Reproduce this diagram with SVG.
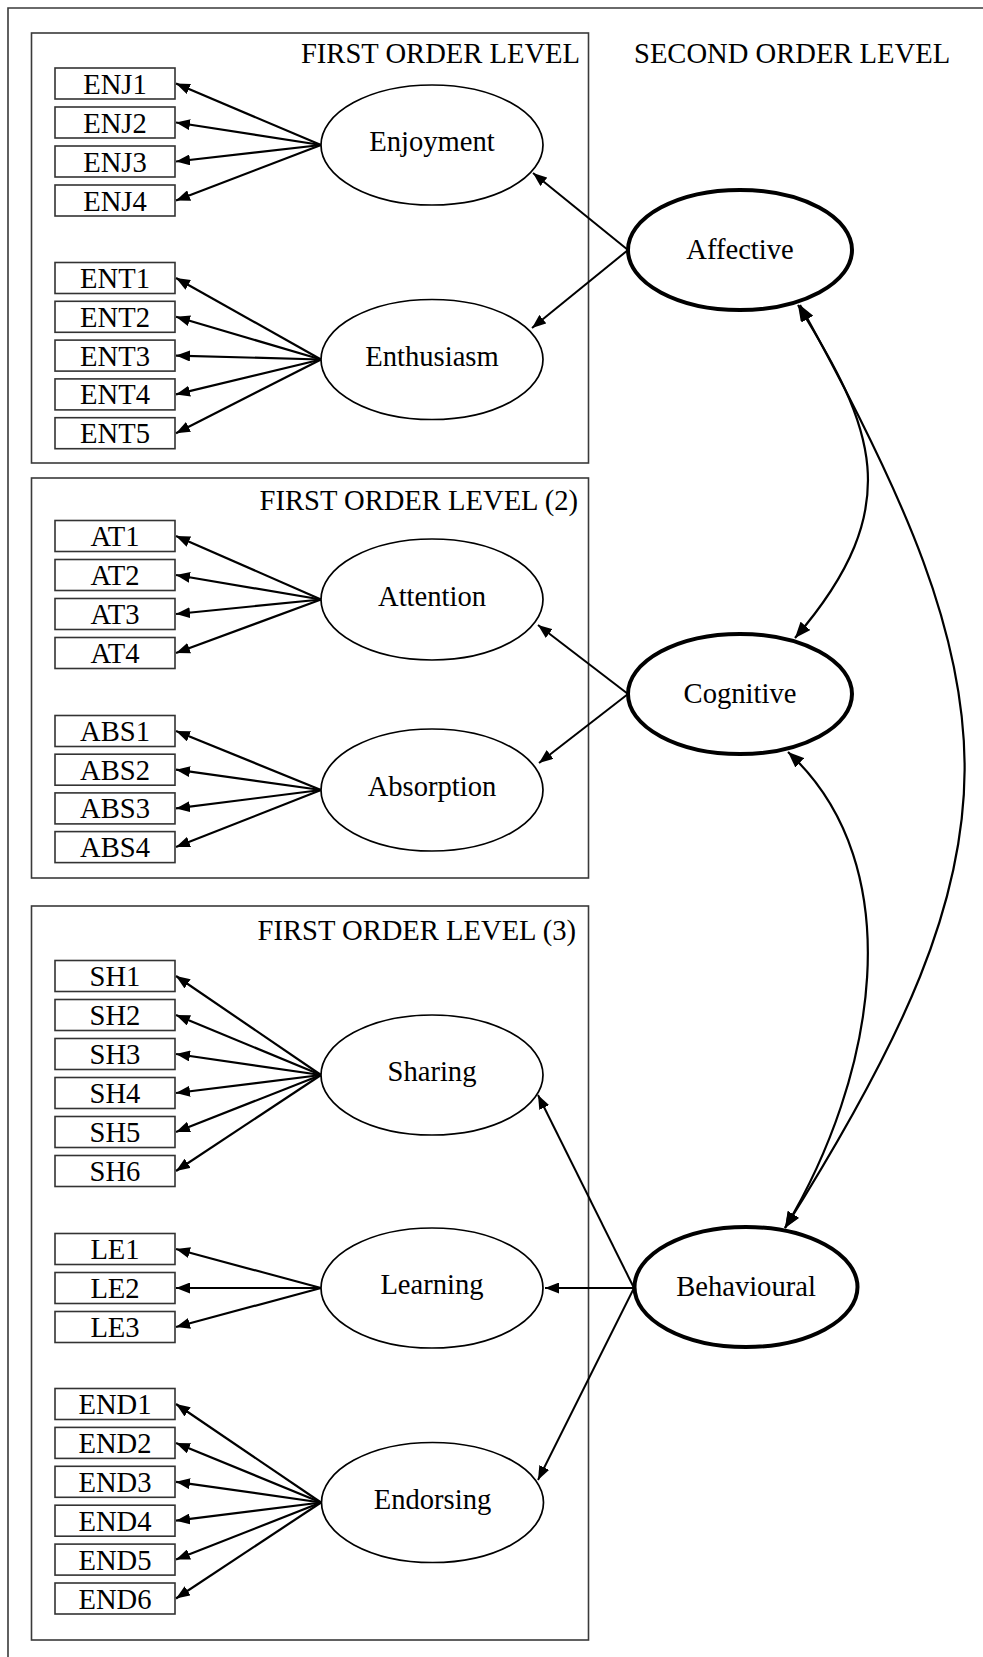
<svg xmlns="http://www.w3.org/2000/svg" width="983" height="1657" viewBox="0 0 983 1657">
  <style>
    text { font-family: "Liberation Serif", "Times New Roman", serif; font-size: 28.6px; fill: #000; }
    .mid { text-anchor: middle; }
    .end { text-anchor: end; }
    .frame { fill: none; stroke: #3a3a3a; stroke-width: 1.6; }
    .ind rect { fill: #fff; stroke: #333; stroke-width: 1.6; }
    .lat1 { fill: #fff; stroke: #000; stroke-width: 1.7; }
    .lat2 { fill: #fff; stroke: #000; stroke-width: 4; }
    .load { fill: none; stroke: #000; stroke-width: 2.2; marker-end: url(#ah); }
    .path2 { fill: none; stroke: #000; stroke-width: 2; marker-end: url(#ah); }
    .cov { fill: none; stroke: #000; stroke-width: 2.2; marker-start: url(#ah2); marker-end: url(#ah2); }
  </style>
  <defs>
    <marker id="ah" markerUnits="userSpaceOnUse" markerWidth="15" markerHeight="11" refX="14" refY="5.5" orient="auto">
      <path d="M0,0 L14,5.5 L0,11 z" fill="#000"/>
    </marker>
    <marker id="ah2" markerUnits="userSpaceOnUse" markerWidth="17" markerHeight="13" refX="16" refY="6.5" orient="auto-start-reverse">
      <path d="M0,0 L16,6.5 L0,13 z" fill="#000"/>
    </marker>
  </defs>

  <rect width="983" height="1657" fill="#fff"/>
  <!-- outer border (top and left edges) -->
  <path d="M8,1657 V8 H983" class="frame"/>

  <!-- first order group frames -->
  <g id="group-first-order-1">
    <rect x="31.5" y="33" width="557" height="430" class="frame"/>
    <text x="580" y="63" class="end">FIRST ORDER LEVEL</text>
  </g>
  <g id="group-first-order-2">
    <rect x="31.5" y="478" width="557" height="400" class="frame"/>
    <text x="578" y="510" class="end">FIRST ORDER LEVEL (2)</text>
  </g>
  <g id="group-first-order-3">
    <rect x="31.5" y="906" width="557" height="734" class="frame"/>
    <text x="576" y="940" class="end">FIRST ORDER LEVEL (3)</text>
  </g>
  <text x="634" y="63">SECOND ORDER LEVEL</text>

  <!-- connectors -->
  <g id="connectors">
    <!-- Enjoyment loadings -->
    <path class="load" d="M321,145 L176,83.5"/>
    <path class="load" d="M321,145 L176,122.5"/>
    <path class="load" d="M321,145 L176,161.5"/>
    <path class="load" d="M321,145 L176,200.5"/>
    <!-- Enthusiasm loadings -->
    <path class="load" d="M321,359.5 L176,278"/>
    <path class="load" d="M321,359.5 L176,316.8"/>
    <path class="load" d="M321,359.5 L176,355.6"/>
    <path class="load" d="M321,359.5 L176,394.4"/>
    <path class="load" d="M321,359.5 L176,433.2"/>
    <!-- Attention loadings -->
    <path class="load" d="M321,599.5 L176,536"/>
    <path class="load" d="M321,599.5 L176,575"/>
    <path class="load" d="M321,599.5 L176,614"/>
    <path class="load" d="M321,599.5 L176,653"/>
    <!-- Absorption loadings -->
    <path class="load" d="M321,790 L176,731"/>
    <path class="load" d="M321,790 L176,769.7"/>
    <path class="load" d="M321,790 L176,808.4"/>
    <path class="load" d="M321,790 L176,847.1"/>
    <!-- Sharing loadings -->
    <path class="load" d="M321,1075 L176,976"/>
    <path class="load" d="M321,1075 L176,1015"/>
    <path class="load" d="M321,1075 L176,1054"/>
    <path class="load" d="M321,1075 L176,1093"/>
    <path class="load" d="M321,1075 L176,1132"/>
    <path class="load" d="M321,1075 L176,1171"/>
    <!-- Learning loadings -->
    <path class="load" d="M321,1288 L176,1249"/>
    <path class="load" d="M321,1288 L176,1288"/>
    <path class="load" d="M321,1288 L176,1327"/>
    <!-- Endorsing loadings -->
    <path class="load" d="M321,1502.5 L176,1404"/>
    <path class="load" d="M321,1502.5 L176,1442.9"/>
    <path class="load" d="M321,1502.5 L176,1481.8"/>
    <path class="load" d="M321,1502.5 L176,1520.7"/>
    <path class="load" d="M321,1502.5 L176,1559.6"/>
    <path class="load" d="M321,1502.5 L176,1598.5"/>

    <!-- second order paths -->
    <path class="path2" d="M628,250 L533,173"/>
    <path class="path2" d="M628,250 L532,328"/>
    <path class="path2" d="M628,694 L538,625"/>
    <path class="path2" d="M628,694 L539,763"/>
    <path class="path2" d="M634,1288 L538,1095"/>
    <path class="path2" d="M634,1288 L545,1288"/>
    <path class="path2" d="M634,1288 L538,1480"/>

    <!-- covariances between second order factors -->
    <path class="cov" d="M798,305 C872,425 910,505 795,638"/>
    <path class="cov" d="M788,752 C913,867 875,1078 785,1228"/>
    <path class="cov" d="M800,305 C1017,699 1027,843 785,1228"/>
  </g>

  <!-- first order factors -->
  <g id="enjoyment">
    <ellipse class="lat1" cx="432" cy="145" rx="111" ry="60"/>
    <text x="432" y="151" class="mid">Enjoyment</text>
  </g>
  <g id="enthusiasm">
    <ellipse class="lat1" cx="432" cy="359.5" rx="111" ry="60"/>
    <text x="432" y="365.5" class="mid">Enthusiasm</text>
  </g>
  <g id="attention">
    <ellipse class="lat1" cx="432" cy="599.5" rx="111" ry="60.5"/>
    <text x="432" y="605.5" class="mid">Attention</text>
  </g>
  <g id="absorption">
    <ellipse class="lat1" cx="432" cy="790" rx="111" ry="61"/>
    <text x="432" y="796" class="mid">Absorption</text>
  </g>
  <g id="sharing">
    <ellipse class="lat1" cx="432" cy="1075" rx="111" ry="60"/>
    <text x="432" y="1081" class="mid">Sharing</text>
  </g>
  <g id="learning">
    <ellipse class="lat1" cx="432" cy="1288" rx="111" ry="60"/>
    <text x="432" y="1294" class="mid">Learning</text>
  </g>
  <g id="endorsing">
    <ellipse class="lat1" cx="432.5" cy="1502.5" rx="111" ry="60"/>
    <text x="432.5" y="1508.5" class="mid">Endorsing</text>
  </g>

  <!-- observed indicators -->
  <g id="indicators" class="ind">
    <g id="ENJ1"><rect x="55" y="68" width="120" height="31"/><text x="115" y="93.5" class="mid">ENJ1</text></g>
    <g id="ENJ2"><rect x="55" y="107" width="120" height="31"/><text x="115" y="132.5" class="mid">ENJ2</text></g>
    <g id="ENJ3"><rect x="55" y="146" width="120" height="31"/><text x="115" y="171.5" class="mid">ENJ3</text></g>
    <g id="ENJ4"><rect x="55" y="185" width="120" height="31"/><text x="115" y="210.5" class="mid">ENJ4</text></g>

    <g id="ENT1"><rect x="55" y="262.5" width="120" height="31"/><text x="115" y="288" class="mid">ENT1</text></g>
    <g id="ENT2"><rect x="55" y="301.3" width="120" height="31"/><text x="115" y="326.8" class="mid">ENT2</text></g>
    <g id="ENT3"><rect x="55" y="340.1" width="120" height="31"/><text x="115" y="365.6" class="mid">ENT3</text></g>
    <g id="ENT4"><rect x="55" y="378.9" width="120" height="31"/><text x="115" y="404.4" class="mid">ENT4</text></g>
    <g id="ENT5"><rect x="55" y="417.7" width="120" height="31"/><text x="115" y="443.2" class="mid">ENT5</text></g>

    <g id="AT1"><rect x="55" y="520.5" width="120" height="31"/><text x="115" y="546" class="mid">AT1</text></g>
    <g id="AT2"><rect x="55" y="559.5" width="120" height="31"/><text x="115" y="585" class="mid">AT2</text></g>
    <g id="AT3"><rect x="55" y="598.5" width="120" height="31"/><text x="115" y="624" class="mid">AT3</text></g>
    <g id="AT4"><rect x="55" y="637.5" width="120" height="31"/><text x="115" y="663" class="mid">AT4</text></g>

    <g id="ABS1"><rect x="55" y="715.5" width="120" height="31"/><text x="115" y="741" class="mid">ABS1</text></g>
    <g id="ABS2"><rect x="55" y="754.2" width="120" height="31"/><text x="115" y="779.7" class="mid">ABS2</text></g>
    <g id="ABS3"><rect x="55" y="792.9" width="120" height="31"/><text x="115" y="818.4" class="mid">ABS3</text></g>
    <g id="ABS4"><rect x="55" y="831.6" width="120" height="31"/><text x="115" y="857.1" class="mid">ABS4</text></g>

    <g id="SH1"><rect x="55" y="960.5" width="120" height="31"/><text x="115" y="986" class="mid">SH1</text></g>
    <g id="SH2"><rect x="55" y="999.5" width="120" height="31"/><text x="115" y="1025" class="mid">SH2</text></g>
    <g id="SH3"><rect x="55" y="1038.5" width="120" height="31"/><text x="115" y="1064" class="mid">SH3</text></g>
    <g id="SH4"><rect x="55" y="1077.5" width="120" height="31"/><text x="115" y="1103" class="mid">SH4</text></g>
    <g id="SH5"><rect x="55" y="1116.5" width="120" height="31"/><text x="115" y="1142" class="mid">SH5</text></g>
    <g id="SH6"><rect x="55" y="1155.5" width="120" height="31"/><text x="115" y="1181" class="mid">SH6</text></g>

    <g id="LE1"><rect x="55" y="1233.5" width="120" height="31"/><text x="115" y="1259" class="mid">LE1</text></g>
    <g id="LE2"><rect x="55" y="1272.5" width="120" height="31"/><text x="115" y="1298" class="mid">LE2</text></g>
    <g id="LE3"><rect x="55" y="1311.5" width="120" height="31"/><text x="115" y="1337" class="mid">LE3</text></g>

    <g id="END1"><rect x="55" y="1388.5" width="120" height="31"/><text x="115" y="1414" class="mid">END1</text></g>
    <g id="END2"><rect x="55" y="1427.4" width="120" height="31"/><text x="115" y="1452.9" class="mid">END2</text></g>
    <g id="END3"><rect x="55" y="1466.3" width="120" height="31"/><text x="115" y="1491.8" class="mid">END3</text></g>
    <g id="END4"><rect x="55" y="1505.2" width="120" height="31"/><text x="115" y="1530.7" class="mid">END4</text></g>
    <g id="END5"><rect x="55" y="1544.1" width="120" height="31"/><text x="115" y="1569.6" class="mid">END5</text></g>
    <g id="END6"><rect x="55" y="1583" width="120" height="31"/><text x="115" y="1608.5" class="mid">END6</text></g>
  </g>

  <!-- second order factors -->
  <g id="affective">
    <ellipse class="lat2" cx="740" cy="250" rx="112" ry="60"/>
    <text x="740" y="259" class="mid">Affective</text>
  </g>
  <g id="cognitive">
    <ellipse class="lat2" cx="740" cy="694" rx="112" ry="60"/>
    <text x="740" y="703" class="mid">Cognitive</text>
  </g>
  <g id="behavioural">
    <ellipse class="lat2" cx="746" cy="1287" rx="111.5" ry="60"/>
    <text x="746" y="1296" class="mid">Behavioural</text>
  </g>
</svg>
